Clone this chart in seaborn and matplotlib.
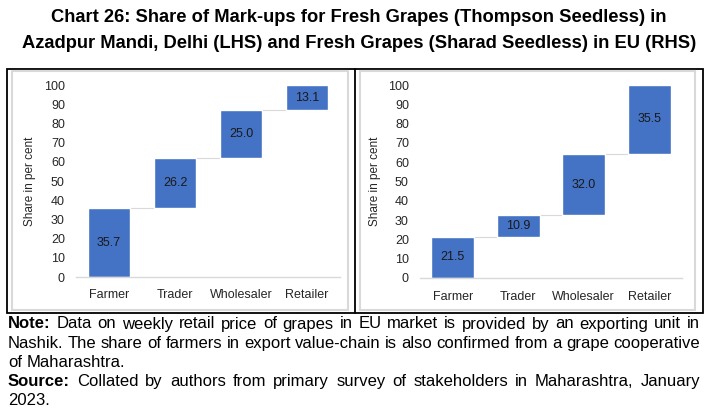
import matplotlib
matplotlib.use('Agg')
import matplotlib.pyplot as plt
from matplotlib import font_manager
from matplotlib.patches import Rectangle
import seaborn as sns
import pandas as pd

# data
stages = ['Farmer', 'Trader', 'Wholesaler', 'Retailer']
share_delhi = [35.7, 26.2, 25.0, 13.1]
share_eu = [21.5, 10.9, 32.0, 35.5]
y_ticks = list(range(0, 101, 10))

title_lines = ['Chart 26: Share of Mark-ups for Fresh Grapes (Thompson Seedless) in',
               'Azadpur Mandi, Delhi (LHS) and Fresh Grapes (Sharad Seedless) in EU (RHS)']
note_lines = [
    ('Note:', 'Data on weekly retail price of grapes in EU market is provided by an exporting unit in', True),
    ('', 'Nashik. The share of farmers in export value-chain is also confirmed from a grape cooperative', True),
    ('', 'of Maharashtra.', False),
    ('Source:', 'Collated by authors from primary survey of stakeholders in Maharashtra, January', True),
    ('', '2023.', False),
]

BAR_COLOR = '#4472C4'
GRID_GRAY = '#d9d9d9'
TEXT_COLOR = '#262626'

sns.set_style('white')
names = {f.name for f in font_manager.fontManager.ttflist}
narrow = 'Liberation Sans Narrow' if 'Liberation Sans Narrow' in names else 'Liberation Sans'
plt.rcParams['font.family'] = ['Liberation Sans', 'DejaVu Sans']

W, H = 707, 416
fig = plt.figure(figsize=(W / 100, H / 100), dpi=100)


def fx(px):
    return px / W


def fy(py):
    return 1 - py / H


def waterfall(ax, values, ylabel_pad):
    df = pd.DataFrame({'stage': stages, 'share': values})
    df['base'] = df['share'].cumsum() - df['share']
    width = 0.65
    sns.barplot(data=df, x='stage', y='share', bottom=df['base'].to_numpy(),
                color=BAR_COLOR, saturation=1, width=width, errorbar=None, ax=ax)
    ax.bar_label(ax.containers[0], labels=[f'{v:.1f}' for v in values],
                 label_type='center', fontsize=9, color='#1a1a1a')
    tops = df['share'].cumsum().to_numpy()
    for i in range(len(values) - 1):
        ax.plot([i + width / 2, i + 1 - width / 2], [tops[i], tops[i]],
                color=GRID_GRAY, lw=0.8, zorder=0)
    ax.set_xlim(-0.5, 3.5)
    ax.set_ylim(0, 100)
    ax.set_yticks(y_ticks)
    ax.set_xlabel('')
    ax.set_ylabel('Share in per cent', fontsize=8.5, color=TEXT_COLOR, labelpad=ylabel_pad)
    ax.tick_params(axis='both', length=0, labelsize=9, labelcolor=TEXT_COLOR)
    ax.tick_params(axis='y', pad=8)
    ax.tick_params(axis='x', pad=9)
    for s in ['left', 'top', 'right']:
        ax.spines[s].set_visible(False)
    ax.spines['bottom'].set_color(GRID_GRAY)
    ax.spines['bottom'].set_linewidth(1)


ax1 = fig.add_axes([fx(76), fy(277), fx(340 - 76), (277 - 85) / H])
waterfall(ax1, share_delhi, 6)
ax2 = fig.add_axes([fx(420), fy(278), fx(682 - 420), (278 - 85) / H])
waterfall(ax2, share_eu, 5)

# panel frames
fig.patches.append(Rectangle((fx(7), fy(313)), fx(703 - 7), (313 - 69) / H, transform=fig.transFigure,
                             fill=False, ec='black', lw=1.3, zorder=-1))
fig.lines.append(plt.Line2D([fx(355), fx(355)], [fy(313), fy(69)], transform=fig.transFigure,
                            color='black', lw=1.3))
for x0, x1 in [(12, 348), (360, 695)]:
    fig.patches.append(Rectangle((fx(x0), fy(310)), fx(x1 - x0), (310 - 71) / H, transform=fig.transFigure,
                                 fill=False, ec=GRID_GRAY, lw=1.5, zorder=-1))

# title
fig.text(fx(359), fy(18), title_lines[0], ha='center', va='center', fontsize=13.2,
         fontweight='bold', color='black', family=[narrow, 'DejaVu Sans'])
fig.text(fx(359), fy(43), title_lines[1], ha='center', va='center', fontsize=13.2,
         fontweight='bold', color='black', family=[narrow, 'DejaVu Sans'])

# notes, justified like the source
renderer = fig.canvas.get_renderer()
x_left, x_right = 8, 700
note_size = 12
for i, (head, body, justify) in enumerate(note_lines):
    y = fy(324 + i * 19.2)
    words = ([(head, 'bold')] if head else []) + [(w, 'normal') for w in body.split()]
    texts = [fig.text(0, y, w, ha='left', va='center', fontsize=note_size, fontweight=wt,
                      color='black', family=[narrow, 'DejaVu Sans']) for w, wt in words]
    widths = [t.get_window_extent(renderer).width for t in texts]
    space = fig.text(0, 0, 'a b', fontsize=note_size, family=[narrow, 'DejaVu Sans'])
    sw = space.get_window_extent(renderer).width
    space.remove()
    aw = fig.text(0, 0, 'ab', fontsize=note_size, family=[narrow, 'DejaVu Sans'])
    sw -= aw.get_window_extent(renderer).width
    aw.remove()
    if justify and len(texts) > 1:
        gap = (x_right - x_left - sum(widths)) / (len(texts) - 1)
    else:
        gap = sw
    x = x_left
    for t, w in zip(texts, widths):
        t.set_x(fx(x))
        x += w + gap

fig.savefig('out.png', dpi=100)
